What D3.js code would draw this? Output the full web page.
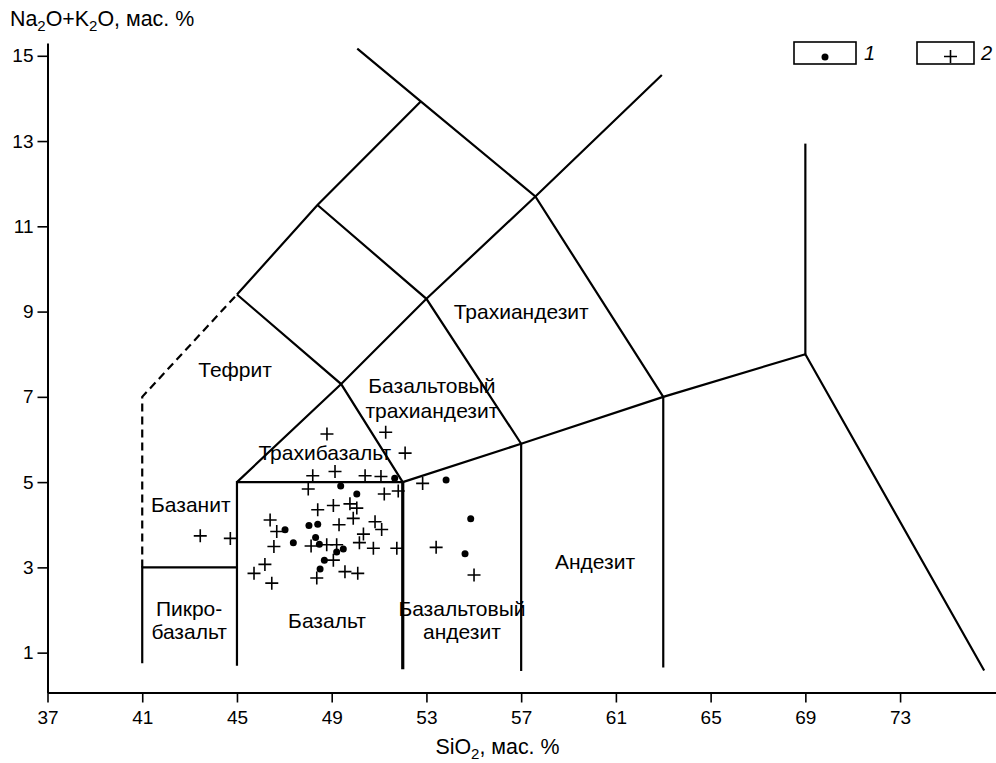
<!DOCTYPE html>
<html><head><meta charset="utf-8">
<script src="https://cdn.jsdelivr.net/npm/d3@7"></script>
<style>
body{margin:0;background:#fff;}
svg{display:block;font-family:"Liberation Sans",Arial,Helvetica,sans-serif;}
</style></head>
<body><svg id="c" width="996" height="763"></svg>
<script>
// ---- data ----
const xTicks = [37,41,45,49,53,57,61,65,69,73];
const yTicks = [1,3,5,7,9,11,13,15];

// TAS boundary polylines [SiO2, Na2O+K2O]
const solidLines = [
  [[41,0.75],[41,3],[45,3]],
  [[45,0.69],[45,5],[52,5]],
  [[57,0.57],[57,5.9]],
  [[63,0.65],[63,7]],
  [[52,5],[57,5.9],[63,7],[69,8],[76.55,0.58]],
  [[69,8],[69,12.94]],
  [[45,5],[49.4,7.3],[53,9.3],[57.6,11.7],[62.94,14.55]],
  [[45,9.4],[48.4,11.5],[52.76,13.93]],
  [[50.08,15.17],[52.76,13.93],[57.6,11.7],[63,7]],
  [[45,9.4],[49.4,7.3],[52,5]],
  [[48.4,11.5],[53,9.3],[57,5.9]]
];
const thickLines = [
  [[52,0.61],[52,5]]
];
const dashedLines = [
  [[41,3],[41,7],[45,9.4]]
];

// series 1 (dots)
const series1 = [
  [47.03,3.88],[47.38,3.58],[48.04,3.98],[48.41,4.01],[48.32,3.70],[48.48,3.54],
  [48.69,3.17],[48.51,2.96],[49.38,4.91],[50.06,4.72],[51.66,5.09],[53.83,5.05],
  [54.87,4.14],[54.63,3.32],[49.49,3.43],[49.21,3.36]
];
// series 2 (crosses)
const series2 = [
  [43.45,3.74],[44.72,3.68],[46.40,4.11],[46.68,3.84],[46.56,3.49],[46.18,3.07],
  [45.72,2.86],[46.47,2.63],[48.20,5.15],[48.01,4.84],[48.41,4.35],[48.13,3.50],
  [48.37,2.75],[48.80,6.13],[51.28,6.17],[52.10,5.68],[49.14,5.25],[50.41,5.15],
  [51.08,5.13],[51.22,4.72],[51.81,4.79],[49.07,4.45],[49.77,4.49],[50.06,4.39],
  [49.31,4.00],[49.91,4.15],[50.83,4.07],[51.11,3.89],[50.76,3.45],[51.75,3.45],
  [50.17,3.58],[50.34,3.78],[48.79,3.53],[49.21,3.53],[49.07,3.17],[49.56,2.90],
  [50.10,2.86],[52.84,4.97],[53.41,3.47],[55.01,2.82]
];

// field names [SiO2, Na2O+K2O, text]
const fieldLabels = [
  [57.0,8.99,"Трахиандезит"],
  [44.92,7.63,"Тефрит"],
  [53.23,7.26,"Базальтовый"],
  [53.23,6.67,"трахиандезит"],
  [48.71,5.69,"Трахибазальт"],
  [43.05,4.46,"Базанит"],
  [42.98,2.03,"Пикро-"],
  [42.98,1.49,"базальт"],
  [48.8,1.75,"Базальт"],
  [54.5,2.03,"Базальтовый"],
  [54.5,1.49,"андезит"],
  [60.12,3.13,"Андезит"]
];
const legendLabels = ["1","2"];

// ---- drawing ----
const svg = d3.select("#c");
const x = d3.scaleLinear().domain([37,77.05]).range([47.5,996]);
const y = d3.scaleLinear().domain([0.065,15.3]).range([692.5,43]);
const line = d3.line().x(d=>x(d[0])).y(d=>y(d[1]));

// axes
const xAxis = svg.append("g").attr("transform",`translate(0,${y(0.065)})`)
  .call(d3.axisBottom(x).tickValues(xTicks).tickSize(10).tickSizeOuter(0).tickPadding(8));
const yAxis = svg.append("g").attr("transform",`translate(${x(37)},0)`)
  .call(d3.axisLeft(y).tickValues(yTicks).tickSize(10).tickSizeOuter(0).tickPadding(4));
[xAxis,yAxis].forEach(g=>{
  g.selectAll("path.domain").attr("stroke","#000").attr("stroke-width",2);
  g.selectAll(".tick line").attr("stroke","#000").attr("stroke-width",1.6);
  g.selectAll(".tick text").attr("fill","#000").style("font-size","19px")
   .style("font-family","'Liberation Sans',Arial,sans-serif");
});

// boundaries
const gB = svg.append("g").attr("fill","none").attr("stroke","#000").attr("stroke-linejoin","miter");
gB.selectAll("path.s").data(solidLines).join("path").attr("class","s")
  .attr("d",line).attr("stroke-width",2.2);
gB.selectAll("path.t").data(thickLines).join("path").attr("class","t")
  .attr("d",line).attr("stroke-width",3.2);
gB.selectAll("path.d").data(dashedLines).join("path").attr("class","d")
  .attr("d",line).attr("stroke-width",2.2).attr("stroke-dasharray","8,5");

// labels
svg.append("g").selectAll("text").data(fieldLabels).join("text")
  .attr("x",d=>x(d[0])).attr("y",d=>y(d[1])).attr("dy","0.35em")
  .attr("text-anchor","middle").style("font-size","21px").attr("fill","#000")
  .text(d=>d[2]);

// points
svg.append("g").selectAll("path").data(series2).join("path")
  .attr("transform",d=>`translate(${x(d[0])},${y(d[1])})`)
  .attr("d","M-6.5,0H6.5M0,-6.5V6.5").attr("stroke","#000").attr("stroke-width",1.6);
svg.append("g").selectAll("circle").data(series1).join("circle")
  .attr("cx",d=>x(d[0])).attr("cy",d=>y(d[1])).attr("r",3.5).attr("fill","#000");

// axis titles
const yt = svg.append("text").attr("x",10).attr("y",26).style("font-size","21.4px").attr("fill","#000");
yt.append("tspan").text("Na");
yt.append("tspan").attr("dy",5).style("font-size","15px").text("2");
yt.append("tspan").attr("dy",-5).text("O+K");
yt.append("tspan").attr("dy",5).style("font-size","15px").text("2");
yt.append("tspan").attr("dy",-5).text("O, мас. %");

const xt = svg.append("text").attr("x",x(53)+9).attr("y",754).style("font-size","21.4px").attr("fill","#000");
xt.append("tspan").text("SiO");
xt.append("tspan").attr("dy",5).style("font-size","15px").text("2");
xt.append("tspan").attr("dy",-5).text(", мас. %");

// legend
const leg = svg.append("g");
const lg = leg.selectAll("g").data(legendLabels).join("g")
  .attr("transform",(d,i)=>`translate(${794+i*123},42)`);
lg.append("rect").attr("width",(d,i)=>i?57:62).attr("height",22)
  .attr("fill","none").attr("stroke","#000").attr("stroke-width",1.6);
lg.filter((d,i)=>i===0).append("circle").attr("cx",31).attr("cy",15).attr("r",3.5).attr("fill","#000");
lg.filter((d,i)=>i===1).append("path").attr("d","M27,14.5H40M33.5,8V21").attr("stroke","#000").attr("stroke-width",1.6);
lg.append("text").attr("x",(d,i)=>i?64:70).attr("y",18).style("font-size","20px")
  .style("font-style","italic").attr("fill","#000").text(d=>d);
</script></body></html>
